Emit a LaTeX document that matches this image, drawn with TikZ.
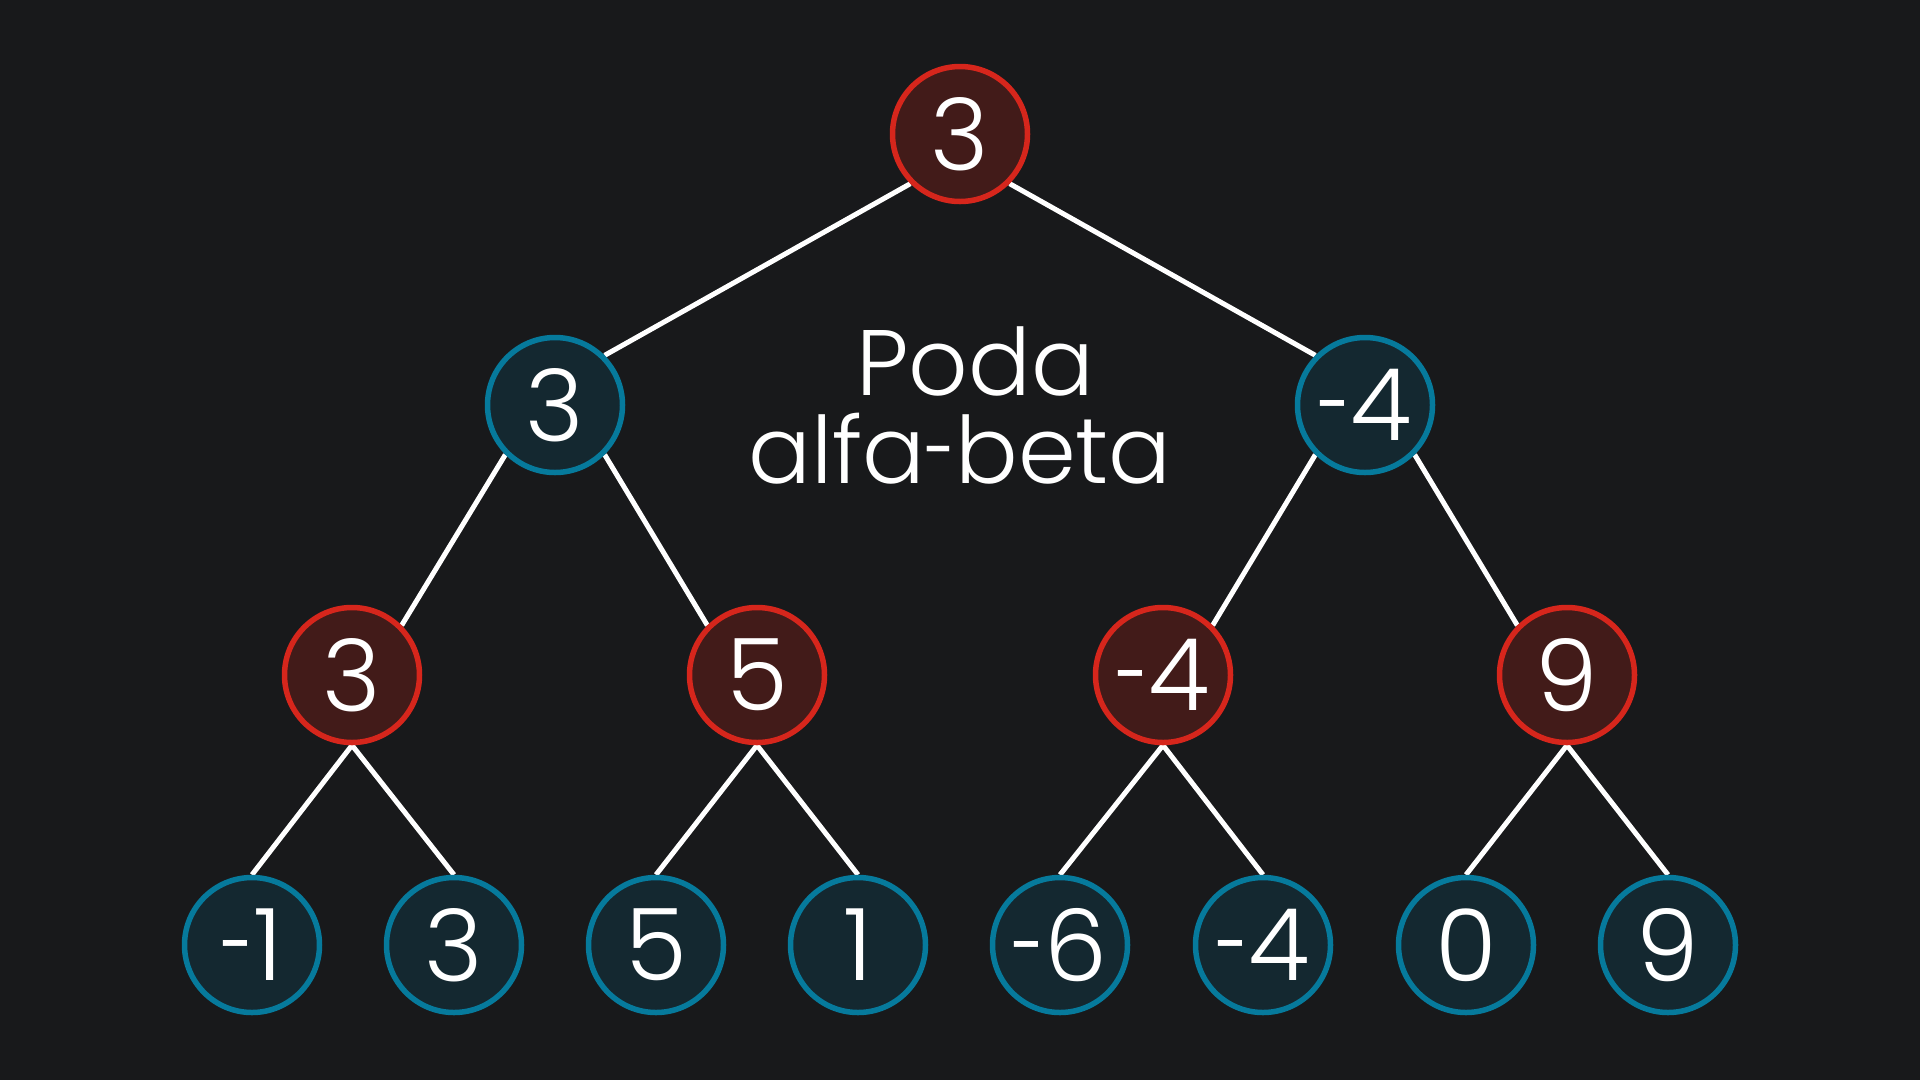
\documentclass[tikz,border=0pt]{standalone}
\usepackage{fontspec}
\setmainfont{Poppins}[UprightFont=* Light]
\usetikzlibrary{backgrounds}
\pgfdeclarelayer{canvas}
\pgfsetlayers{canvas,background,main}
\definecolor{bg}{RGB}{24,25,27}
\definecolor{redline}{RGB}{214,38,28}
\definecolor{redfill}{RGB}{66,27,25}
\definecolor{blueline}{RGB}{6,122,156}
\definecolor{bluefill}{RGB}{20,40,48}
\newcommand\hy{\scalebox{0.62}[1]{-}}
\tikzset{
  nd/.style={circle, minimum size=135pt, inner sep=0pt, line width=5.5pt, text=white, font=\fontsize{100}{100}\selectfont},
  maxnd/.style={nd, draw=redline, fill=redfill},
  minnd/.style={nd, draw=blueline, fill=bluefill},
  edge/.style={draw=white, line width=5pt},
  title/.style={text=white, font=\fontsize{93}{93}\selectfont, inner sep=0pt, anchor=base}
}
\begin{document}
\begin{tikzpicture}[x=1pt,y=-1pt]
\begin{pgfonlayer}{canvas}
\fill[bg] (0,0) rectangle (1920,1080);
\end{pgfonlayer}
\useasboundingbox (0,0) rectangle (1920,1080);
% root
\node[maxnd] (r) at (960,134) {3};
% level 2
\node[minnd] (a) at (555,405) {3};
\node[minnd] (b) at (1365,405) {\hy4};
% level 3
\node[maxnd] (a1) at (352,675) {3};
\node[maxnd] (a2) at (757,675) {5};
\node[maxnd] (b1) at (1163,675) {\hy4};
\node[maxnd] (b2) at (1567,675) {9};
% leaves
\node[minnd] (l1) at (252,945) {\hy1};
\node[minnd] (l2) at (454,945) {3};
\node[minnd] (l3) at (656,945) {5};
\node[minnd] (l4) at (858,945) {1};
\node[minnd] (l5) at (1060,945) {\hy6};
\node[minnd] (l6) at (1263,945) {\hy4};
\node[minnd] (l7) at (1466,945) {0};
\node[minnd] (l8) at (1668,945) {9};
% title
\node[title] (t1) at (975,395) {Poda};
\node[title] (t2) at (960,483) {alfa\hy beta};
\begin{pgfonlayer}{background}
\draw[edge] (r.south west) -- (a.north east);
\draw[edge] (r.south east) -- (b.north west);
\draw[edge] (a.south west) -- (a1.north east);
\draw[edge] (a.south east) -- (a2.north west);
\draw[edge] (b.south west) -- (b1.north east);
\draw[edge] (b.south east) -- (b2.north west);
\draw[edge] (a1.south) -- (l1.north);
\draw[edge] (a1.south) -- (l2.north);
\draw[edge] (a2.south) -- (l3.north);
\draw[edge] (a2.south) -- (l4.north);
\draw[edge] (b1.south) -- (l5.north);
\draw[edge] (b1.south) -- (l6.north);
\draw[edge] (b2.south) -- (l7.north);
\draw[edge] (b2.south) -- (l8.north);
\end{pgfonlayer}
\end{tikzpicture}
\end{document}
